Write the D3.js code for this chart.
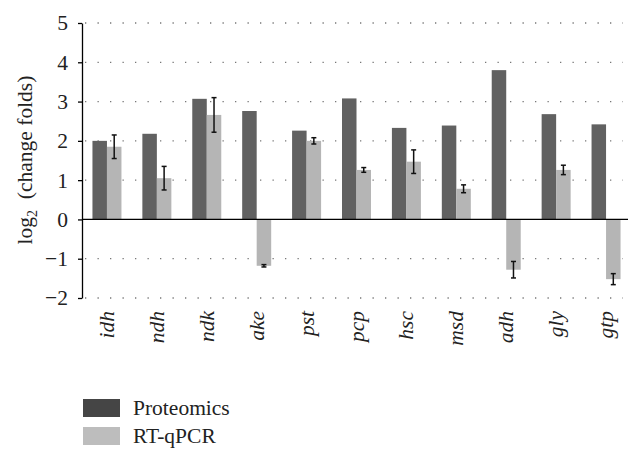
<!DOCTYPE html>
<html><head><meta charset="utf-8">
<script src="https://cdn.jsdelivr.net/npm/d3@7"></script>
<style>body{margin:0;background:#fff}svg{display:block}</style>
</head><body>
<script>
const categories = ["idh","ndh","ndk","ake","pst","pcp","hsc","msd","adh","gly","gtp"];
const proteomics = [2.00,2.18,3.07,2.76,2.26,3.08,2.33,2.39,3.80,2.68,2.42];
const rtqpcr = [1.85,1.05,2.66,-1.18,2.00,1.26,1.47,0.78,-1.28,1.26,-1.52];
const rtqpcrErr = [0.30,0.30,0.44,0.03,0.08,0.06,0.30,0.10,0.21,0.12,0.14];
const yTicks = [-2,-1,0,1,2,3,4,5];
const seriesNames = ["Proteomics","RT-qPCR"];

const W=643,H=462;
const svg=d3.select("body").append("svg").attr("width",W).attr("height",H);
const font="'Liberation Serif','DejaVu Serif',serif";
const fs=21.5;
const x0=82, x1=631, yTop=23, yBot=298;
const x=d3.scaleBand().domain(categories).range([x0,x1]);
const y=d3.scaleLinear().domain([-2,5]).range([yBot,yTop]);
const bw=14.5;

// gridlines
svg.append("g").selectAll("line").data(yTicks.filter(d=>d!==0)).join("line")
  .attr("x1",x0+3).attr("x2",623).attr("y1",d=>y(d)).attr("y2",d=>y(d))
  .attr("stroke","#777").attr("stroke-width",1.3).attr("stroke-dasharray","1.3,11.2");

const g=svg.append("g");
categories.forEach((c,i)=>{
  const cx=x(c)+x.bandwidth()/2;
  g.append("rect").attr("x",cx-bw).attr("width",bw)
    .attr("y",y(Math.max(0,proteomics[i]))).attr("height",Math.abs(y(proteomics[i])-y(0)))
    .attr("fill","#616161");
  g.append("rect").attr("x",cx).attr("width",bw)
    .attr("y",y(Math.max(0,rtqpcr[i]))).attr("height",Math.abs(y(rtqpcr[i])-y(0)))
    .attr("fill","#b5b5b5");
  const ex=cx+bw/2, lo=y(rtqpcr[i]-rtqpcrErr[i]), hi=y(rtqpcr[i]+rtqpcrErr[i]);
  g.append("line").attr("x1",ex).attr("x2",ex).attr("y1",lo).attr("y2",hi).attr("stroke","#111").attr("stroke-width",1.5);
  [lo,hi].forEach(v=>g.append("line").attr("x1",ex-2.5).attr("x2",ex+2.5).attr("y1",v).attr("y2",v).attr("stroke","#111").attr("stroke-width",1.5));
});

// zero line
svg.append("line").attr("x1",x0).attr("x2",628).attr("y1",y(0)).attr("y2",y(0)).attr("stroke","#000").attr("stroke-width",1.3);

// y axis
const ya=svg.append("g").attr("transform",`translate(${x0},0)`)
  .call(d3.axisLeft(y).tickValues(yTicks).tickSize(4).tickSizeOuter(0).tickPadding(10).tickFormat(d=>d<0?"\u2212"+Math.abs(d):d));
ya.select(".domain").attr("stroke","#000").attr("stroke-width",1.3);
ya.selectAll(".tick line").attr("stroke","#000").attr("stroke-width",1.3);
ya.selectAll("text").attr("font-family",font).attr("font-size",fs).attr("fill","#222");

// category labels
svg.append("g").selectAll("text").data(categories).join("text")
  .attr("transform",d=>`translate(${x(d)+x.bandwidth()/2+7},311) rotate(-90)`)
  .attr("text-anchor","end").attr("font-family",font).attr("font-style","italic")
  .attr("font-size",fs).attr("fill","#222").text(d=>d);

// y title
const yt=svg.append("text").attr("transform","translate(32,160) rotate(-90)")
  .attr("text-anchor","middle").attr("font-family",font).attr("font-size",fs).attr("fill","#222");
yt.append("tspan").text("log");
yt.append("tspan").attr("font-size",14).attr("dy",5).text("2");
yt.append("tspan").attr("dy",-5).text("\u2002(change folds)");

// legend
const lg=svg.append("g");
const lcol=["#454545","#bdbdbd"];
seriesNames.forEach((s,i)=>{
  lg.append("rect").attr("x",83).attr("y",399+i*28).attr("width",37).attr("height",18).attr("fill",lcol[i]);
  lg.append("text").attr("x",133).attr("y",415+i*28).attr("font-family",font).attr("font-size",fs).attr("fill","#222").text(s);
});
</script>
</body></html>
